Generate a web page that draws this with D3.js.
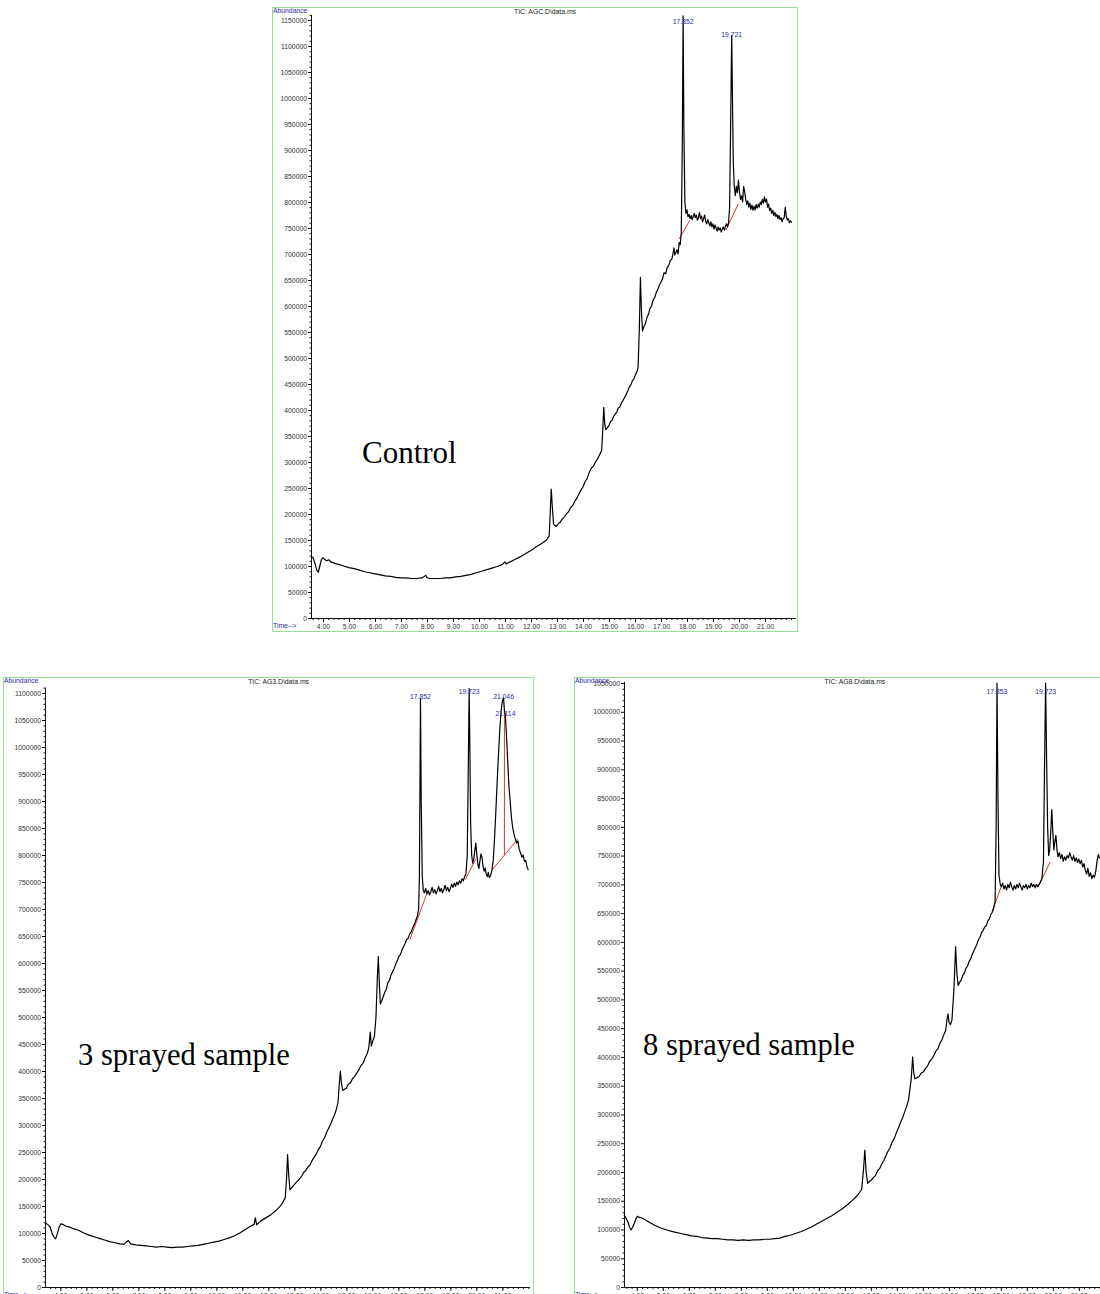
<!DOCTYPE html>
<html><head><meta charset="utf-8">
<script src="https://cdn.jsdelivr.net/npm/d3@7"></script>
<style>body{margin:0;background:#fff}svg{display:block}</style>
</head><body>
<svg id="c" width="1100" height="1294"></svg>
<script>
// ---------- DATA (time in min, abundance in thousands) ----------
const controlTrace = [[3.54,119],[3.62,116],[3.70,104],[3.76,92],[3.82,88],[3.88,100],[3.94,112],[4.00,116],[4.06,113],[4.14,110],[4.22,112],[4.30,108],[4.45,105],[4.60,103],[4.80,100],[5.00,97],[5.20,95],[5.40,92],[5.60,89],[5.80,87],[6.00,85],[6.20,83],[6.40,81],[6.60,80],[6.80,78],[7.00,77],[7.20,77],[7.40,76],[7.60,76],[7.80,77],[7.90,80],[7.95,82],[8.00,78],[8.10,76],[8.30,76],[8.50,76],[8.70,77],[8.90,77],[9.10,79],[9.30,80],[9.50,82],[9.70,84],[9.90,87],[10.10,90],[10.30,93],[10.50,96],[10.70,99],[10.90,103],[11.00,108],[11.05,104],[11.20,108],[11.40,113],[11.60,118],[11.80,124],[12.00,130],[12.20,137],[12.40,143],[12.60,150],[12.70,158],[12.74,200],[12.78,248],[12.82,215],[12.87,180],[12.97,176],[13.05,181],[13.12,184],[13.20,190],[13.28,194],[13.36,200],[13.44,204],[13.52,212],[13.60,216],[13.68,224],[13.76,230],[13.84,238],[13.92,246],[14.00,252],[14.08,262],[14.16,268],[14.24,280],[14.32,288],[14.40,292],[14.48,300],[14.56,306],[14.62,312],[14.68,318],[14.72,322],[14.76,360],[14.80,405],[14.84,372],[14.88,362],[14.94,366],[15.00,370],[15.06,378],[15.12,380],[15.18,388],[15.24,392],[15.30,396],[15.36,404],[15.42,406],[15.48,414],[15.54,418],[15.60,424],[15.66,430],[15.72,436],[15.78,444],[15.84,448],[15.90,456],[15.96,460],[16.02,468],[16.08,474],[16.12,482],[16.17,560],[16.21,655],[16.25,590],[16.29,552],[16.34,560],[16.40,566],[16.46,578],[16.52,584],[16.58,596],[16.64,600],[16.70,612],[16.76,616],[16.82,626],[16.88,632],[16.94,640],[17.00,646],[17.06,652],[17.12,664],[17.18,662],[17.24,674],[17.30,678],[17.36,688],[17.42,690],[17.46,700],[17.50,712],[17.53,698],[17.58,704],[17.62,708],[17.66,700],[17.70,722],[17.74,718],[17.78,740],[17.82,900],[17.852,1158],[17.88,950],[17.92,800],[17.96,778],[18.00,785],[18.04,772],[18.08,776],[18.12,768],[18.16,774],[18.20,766],[18.24,772],[18.28,778],[18.32,770],[18.36,775],[18.40,765],[18.44,770],[18.48,780],[18.52,768],[18.56,773],[18.60,762],[18.64,768],[18.68,775],[18.72,762],[18.76,758],[18.80,766],[18.84,760],[18.88,754],[18.92,762],[18.96,752],[19.00,758],[19.04,748],[19.08,756],[19.12,750],[19.16,744],[19.20,752],[19.24,746],[19.28,750],[19.32,742],[19.36,748],[19.40,752],[19.44,746],[19.48,754],[19.52,758],[19.56,752],[19.60,760],[19.64,790],[19.68,950],[19.721,1120],[19.75,1000],[19.78,880],[19.82,830],[19.86,812],[19.90,830],[19.94,818],[19.98,842],[20.02,820],[20.06,805],[20.10,812],[20.14,800],[20.18,830],[20.22,820],[20.26,805],[20.30,795],[20.34,802],[20.38,790],[20.42,798],[20.46,786],[20.50,794],[20.54,784],[20.58,792],[20.62,785],[20.66,795],[20.70,788],[20.74,796],[20.78,790],[20.82,800],[20.86,795],[20.90,805],[20.94,798],[20.98,810],[21.02,800],[21.06,806],[21.10,790],[21.14,796],[21.18,784],[21.22,788],[21.26,778],[21.30,784],[21.34,774],[21.38,780],[21.42,772],[21.46,776],[21.50,768],[21.54,774],[21.58,766],[21.62,770],[21.66,762],[21.70,768],[21.74,770],[21.78,790],[21.82,772],[21.86,765],[21.90,768],[21.94,760],[21.98,764],[22.03,760]];

const spray3Trace = [[3.41,120],[3.50,116],[3.60,112],[3.68,100],[3.76,92],[3.82,89],[3.88,98],[3.95,110],[4.02,117],[4.10,116],[4.20,113],[4.35,111],[4.50,108],[4.70,105],[4.90,100],[5.10,96],[5.30,93],[5.50,90],[5.70,87],[5.90,84],[6.10,82],[6.30,80],[6.45,79],[6.55,84],[6.62,86],[6.70,80],[6.90,78],[7.10,77],[7.30,76],[7.50,75],[7.70,74],[7.90,75],[8.10,74],[8.30,73],[8.50,74],[8.70,74],[8.90,75],[9.10,76],[9.30,77],[9.50,79],[9.70,81],[9.90,83],[10.10,85],[10.30,88],[10.50,91],[10.70,95],[10.90,100],[11.10,106],[11.30,112],[11.45,116],[11.50,128],[11.55,115],[11.70,122],[11.90,128],[12.10,134],[12.30,142],[12.50,152],[12.65,165],[12.70,200],[12.74,245],[12.78,210],[12.83,180],[12.90,184],[12.97,188],[13.04,192],[13.12,196],[13.20,200],[13.28,205],[13.36,212],[13.44,216],[13.52,222],[13.60,226],[13.68,234],[13.76,240],[13.84,246],[13.92,254],[14.00,260],[14.08,270],[14.16,276],[14.24,286],[14.32,294],[14.40,302],[14.48,312],[14.56,320],[14.62,330],[14.68,342],[14.72,370],[14.77,400],[14.81,378],[14.86,364],[14.92,366],[15.00,368],[15.08,376],[15.16,378],[15.24,386],[15.32,390],[15.40,396],[15.48,402],[15.56,410],[15.64,414],[15.72,424],[15.80,432],[15.86,442],[15.92,472],[15.96,446],[16.02,456],[16.08,464],[16.14,500],[16.19,570],[16.23,612],[16.27,560],[16.31,524],[16.36,530],[16.42,538],[16.48,546],[16.54,552],[16.60,564],[16.66,568],[16.72,578],[16.78,584],[16.84,590],[16.90,598],[16.96,604],[17.02,612],[17.08,616],[17.14,624],[17.20,630],[17.26,636],[17.32,644],[17.38,646],[17.44,654],[17.50,658],[17.56,666],[17.62,672],[17.68,680],[17.74,688],[17.78,700],[17.81,760],[17.852,1090],[17.88,900],[17.92,760],[17.96,734],[18.00,730],[18.05,738],[18.10,728],[18.15,734],[18.20,726],[18.25,732],[18.30,740],[18.35,730],[18.40,736],[18.45,728],[18.50,734],[18.55,742],[18.60,732],[18.65,738],[18.70,730],[18.75,736],[18.80,744],[18.85,734],[18.90,740],[18.95,732],[19.00,738],[19.05,746],[19.10,740],[19.15,748],[19.20,742],[19.25,750],[19.30,745],[19.35,752],[19.40,748],[19.45,756],[19.50,752],[19.55,760],[19.60,765],[19.65,800],[19.69,960],[19.723,1108],[19.75,1000],[19.78,860],[19.82,800],[19.86,785],[19.90,792],[19.94,808],[19.98,822],[20.02,800],[20.06,782],[20.10,775],[20.14,790],[20.18,802],[20.22,795],[20.26,778],[20.30,770],[20.34,776],[20.38,765],[20.42,760],[20.46,768],[20.50,758],[20.55,762],[20.60,772],[20.65,790],[20.70,830],[20.75,880],[20.80,935],[20.85,985],[20.90,1030],[20.95,1065],[21.00,1085],[21.046,1091],[21.08,1068],[21.114,1060],[21.15,1030],[21.20,980],[21.25,930],[21.30,900],[21.35,870],[21.40,850],[21.45,838],[21.50,830],[21.55,822],[21.60,826],[21.65,810],[21.70,804],[21.75,796],[21.80,800],[21.85,788],[21.90,790],[21.95,778],[22.00,772]];

const spray8Trace = [[3.51,125],[3.58,120],[3.66,113],[3.72,104],[3.78,99],[3.84,104],[3.90,110],[3.96,118],[4.02,123],[4.10,121],[4.20,120],[4.35,116],[4.50,112],[4.70,107],[4.90,103],[5.10,100],[5.30,97],[5.50,95],[5.70,93],[5.90,91],[6.10,89],[6.30,88],[6.50,86],[6.70,85],[6.90,84],[7.10,84],[7.30,83],[7.50,82],[7.70,82],[7.90,81],[8.10,82],[8.30,81],[8.50,82],[8.70,82],[8.90,83],[9.10,83],[9.30,84],[9.50,85],[9.70,88],[9.90,90],[10.10,93],[10.30,96],[10.50,100],[10.70,104],[10.90,109],[11.10,114],[11.30,119],[11.50,124],[11.70,130],[11.90,136],[12.10,143],[12.30,151],[12.50,160],[12.65,170],[12.72,205],[12.77,238],[12.82,200],[12.88,180],[12.95,184],[13.02,186],[13.10,190],[13.18,194],[13.26,202],[13.34,206],[13.42,214],[13.50,220],[13.58,228],[13.66,236],[13.74,242],[13.82,252],[13.90,258],[13.98,268],[14.06,276],[14.14,286],[14.22,294],[14.30,304],[14.38,314],[14.45,325],[14.55,360],[14.61,400],[14.65,372],[14.70,362],[14.78,364],[14.86,366],[14.94,372],[15.02,374],[15.10,380],[15.18,384],[15.26,392],[15.34,396],[15.42,402],[15.50,410],[15.58,414],[15.66,424],[15.74,430],[15.82,440],[15.88,446],[15.92,462],[15.97,475],[16.01,460],[16.06,456],[16.12,464],[16.20,520],[16.26,592],[16.31,545],[16.36,524],[16.42,530],[16.48,534],[16.54,542],[16.60,546],[16.66,554],[16.72,558],[16.78,566],[16.84,570],[16.90,578],[16.96,584],[17.02,590],[17.08,596],[17.14,604],[17.20,608],[17.26,616],[17.32,620],[17.38,626],[17.44,628],[17.50,636],[17.56,640],[17.62,648],[17.68,652],[17.74,662],[17.78,670],[17.82,800],[17.853,1050],[17.89,850],[17.93,715],[17.98,700],[18.02,696],[18.07,702],[18.12,692],[18.17,698],[18.22,690],[18.27,700],[18.32,694],[18.37,704],[18.42,696],[18.47,690],[18.52,698],[18.57,692],[18.62,700],[18.67,694],[18.72,702],[18.77,696],[18.82,690],[18.87,698],[18.92,694],[18.97,700],[19.02,692],[19.07,698],[19.12,694],[19.17,702],[19.22,696],[19.27,700],[19.32,694],[19.37,700],[19.42,696],[19.50,702],[19.58,710],[19.64,740],[19.68,900],[19.723,1050],[19.76,920],[19.80,800],[19.84,750],[19.88,760],[19.93,800],[19.96,830],[20.00,790],[20.04,760],[20.08,775],[20.12,785],[20.16,760],[20.20,748],[20.25,755],[20.30,745],[20.35,752],[20.40,740],[20.45,748],[20.50,742],[20.55,750],[20.60,746],[20.65,755],[20.70,748],[20.75,742],[20.80,750],[20.85,740],[20.90,746],[20.95,738],[21.00,744],[21.05,736],[21.10,742],[21.15,730],[21.20,736],[21.25,724],[21.30,718],[21.35,728],[21.40,714],[21.45,720],[21.50,710],[21.55,716],[21.60,712],[21.65,722],[21.70,740],[21.75,752],[21.80,745]];

// integration baselines [t1, v1, t2, v2] (thousands)
const controlBaselines = [[17.70,729,18.11,765],[19.50,746,19.97,796]];
const spray3Baselines = [[17.45,644,18.10,729],[19.58,755,19.97,792],[20.60,772,21.60,830],[21.08,1068,21.08,800]];
const spray8Baselines = [[17.66,652,18.04,699],[19.43,695,19.90,739]];

// peak labels [retention time, apex abundance (thousands)]
const controlPeaks = [[17.852,1158],[19.721,1120]];
const spray3Peaks = [[17.852,1090],[19.723,1108],[21.046,1091],[21.114,1060]];
const spray8Peaks = [[17.853,1050],[19.723,1050]];

const titles = ["TIC: AGC.D\\data.ms","TIC: AG3.D\\data.ms","TIC: AG8.D\\data.ms"];
const sampleNames = ["Control","3 sprayed sample","8 sprayed sample"];
const xTickLabels = [4,5,6,7,8,9,10,11,12,13,14,15,16,17,18,19,20,21];
const yMaxLabels = [1150000,1100000,1050000];

// ---------- LAYOUT ----------
const panels = [
  {trace:controlTrace, base:controlBaselines, peaks:controlPeaks, title:titles[0], name:sampleNames[0], yMaxLabel:yMaxLabels[0],
   frame:[272,7,525,624], ax:311, t0:3.54, y0:618, yTopVal:1160000, px50:26.0, nameXY:[362,463], nameSize:31},
  {trace:spray3Trace, base:spray3Baselines, peaks:spray3Peaks, title:titles[1], name:sampleNames[1], yMaxLabel:yMaxLabels[1],
   frame:[3,677,530,640], ax:45, t0:3.41, y0:1287, yTopVal:1110000, px50:27.0, nameXY:[78,1065], nameSize:30.5},
  {trace:spray8Trace, base:spray8Baselines, peaks:spray8Peaks, title:titles[2], name:sampleNames[2], yMaxLabel:yMaxLabels[2],
   frame:[574,677,540,640], ax:624, t0:3.507, y0:1287, yTopVal:1052000, px50:28.76, nameXY:[643,1055], nameSize:30.5}
];

const svg = d3.select("#c");
const font = "Liberation Sans, Arial, sans-serif";
const blue = "#2a2aa8";

panels.forEach((p, i) => {
  const [fx, fy, fw, fh] = p.frame;
  const g = svg.append("g");
  g.append("rect").attr("x", fx + 0.5).attr("y", fy + 0.5).attr("width", fw).attr("height", fh)
    .attr("fill", "none").attr("stroke", "#9bdc9b").attr("stroke-width", 1);

  const width = 485;
  const x = d3.scaleLinear().domain([p.t0, p.t0 + width / 26]).range([p.ax, p.ax + width]);
  const yTopPx = p.y0 - p.yTopVal / 50000 * p.px50;
  const y = d3.scaleLinear().domain([0, p.yTopVal]).range([p.y0, yTopPx]);

  // y axis
  const majors = d3.range(0, p.yMaxLabel + 1, 50000);
  const minors = d3.range(0, p.yTopVal + 1, 10000).filter(v => v % 50000 !== 0);
  const yAx = g.append("g").attr("transform", `translate(${p.ax},0)`)
    .call(d3.axisLeft(y).tickValues(majors).tickSize(3).tickPadding(1).tickFormat(d3.format("d")));
  yAx.select(".domain").attr("d", `M0.5,${p.y0}V${yTopPx}`).attr("stroke", "#111");
  yAx.selectAll("text").attr("font-family", font).attr("font-size", 6.8).attr("fill", "#333");
  yAx.selectAll("line").attr("stroke", "#111");
  const yMin = g.append("g").attr("transform", `translate(${p.ax},0)`)
    .call(d3.axisLeft(y).tickValues(minors).tickSize(1.5).tickFormat(""));
  yMin.select(".domain").remove();
  yMin.selectAll("line").attr("stroke", "#111");

  // x axis
  const xMin = d3.range(Math.ceil(p.t0 * 5) / 5, p.t0 + width / 26, 0.2);
  const xAx = g.append("g").attr("transform", `translate(0,${p.y0})`)
    .call(d3.axisBottom(x).tickValues(xTickLabels).tickSize(4).tickPadding(2).tickFormat(d3.format(".2f")));
  xAx.select(".domain").attr("d", `M${p.ax},0.5H${p.ax + width}`).attr("stroke", "#111");
  xAx.selectAll("text").attr("font-family", font).attr("font-size", 6.8).attr("fill", "#333");
  xAx.selectAll("line").attr("stroke", "#111");
  const xMn = g.append("g").attr("transform", `translate(0,${p.y0})`)
    .call(d3.axisBottom(x).tickValues(xMin).tickSize(2).tickFormat(""));
  xMn.select(".domain").remove();
  xMn.selectAll("line").attr("stroke", "#111");

  // labels
  g.append("text").attr("x", fx + 1).attr("y", fy + 6).attr("font-family", font).attr("font-size", 6.8)
    .attr("fill", blue).text("Abundance");
  g.append("text").attr("x", fx + 1).attr("y", p.y0 + 10).attr("font-family", font).attr("font-size", 6.8)
    .attr("fill", blue).text("Time-->");
  g.append("text").attr("x", fx + fw * 0.52).attr("y", fy + 7).attr("text-anchor", "middle")
    .attr("font-family", font).attr("font-size", 6.8).attr("fill", "#222").text(p.title);

  // baselines
  g.selectAll("line.base").data(p.base).enter().append("line")
    .attr("x1", d => x(d[0])).attr("y1", d => y(d[1] * 1000))
    .attr("x2", d => x(d[2])).attr("y2", d => y(d[3] * 1000))
    .attr("stroke", "#e03030").attr("stroke-width", 1);

  // trace
  const line = d3.line().x(d => x(d[0])).y(d => y(d[1] * 1000));
  g.append("path").datum(p.trace).attr("d", line).attr("fill", "none")
    .attr("stroke", "#000").attr("stroke-width", 1.2).attr("stroke-linejoin", "round");

  // peak labels
  let prev = null;
  p.peaks.forEach(pk => {
    const px = x(pk[0]);
    let by = Math.max(y(pk[1] * 1000) + 1, fy + 17);
    if (prev && Math.abs(px - prev.x) < 22) by = Math.max(by, prev.y + 12);
    g.append("text").attr("x", px).attr("y", by).attr("text-anchor", "middle")
      .attr("font-family", font).attr("font-size", 6.8).attr("fill", blue).text(pk[0].toFixed(3));
    prev = {x: px, y: by};
  });

  // sample name
  g.append("text").attr("x", p.nameXY[0]).attr("y", p.nameXY[1])
    .attr("font-family", "Liberation Serif, Times New Roman, serif").attr("font-size", p.nameSize)
    .attr("fill", "#000").text(p.name);
});
</script>
</body></html>
